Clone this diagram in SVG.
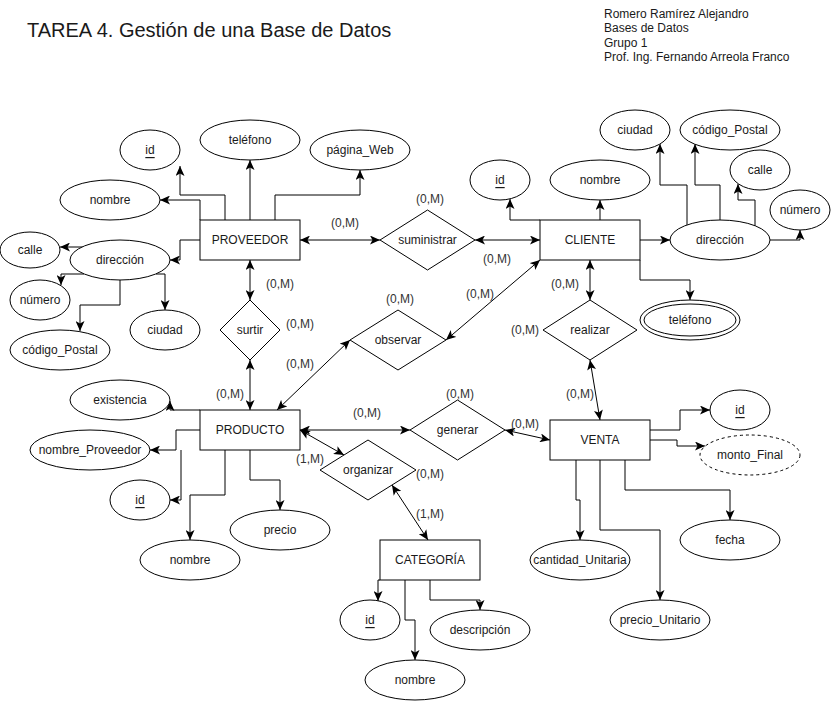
<svg xmlns="http://www.w3.org/2000/svg" width="831" height="701" viewBox="0 0 831 701">
<style>
text{font-family:"Liberation Sans",Arial,Helvetica,sans-serif;font-size:12px;fill:#1a1a1a}
.t{text-anchor:middle;dominant-baseline:central}
.lbl{text-anchor:middle;dominant-baseline:central;fill:#333}
.box,.att,.rel{fill:#fff;stroke:#000;stroke-width:1}
.dash{stroke-dasharray:3 3}
.u{text-decoration:underline}
#conn path{fill:none;stroke:#000;stroke-width:1}
.one{marker-end:url(#ar)}
.two{marker-start:url(#ar);marker-end:url(#ar)}
</style>
<defs>
<marker id="ar" viewBox="0 0 10 9" refX="10" refY="4.5" markerWidth="10" markerHeight="9" markerUnits="userSpaceOnUse" orient="auto-start-reverse">
<path d="M0,0 L10,4.5 L0,9 L2.5,4.5 z" fill="#000"/>
</marker>
</defs>
<rect width="831" height="701" fill="#fff"/>

<g id="header">
<text x="27" y="37" style="font-size:20px">TAREA 4. Gestión de una Base de Datos</text>
<text x="604" y="18">Romero Ramírez Alejandro</text>
<text x="604" y="32">Bases de Datos</text>
<text x="604" y="47">Grupo 1</text>
<text x="604" y="61">Prof. Ing. Fernando Arreola Franco</text>
</g>

<g id="conn">
<!-- PROVEEDOR attributes -->
<path class="one" d="M225,220 V195 H180 V166"/>
<path class="one" d="M200,220 V200 H160"/>
<path class="one" d="M250,220 V160"/>
<path class="one" d="M275,220 V195 H360 V170"/>
<path class="one" d="M200,240 H180 V260 H170"/>
<path class="one" d="M83,247 H60"/>
<path class="one" d="M84,274 H61 V285"/>
<path class="one" d="M120,280 V305 H80 V331"/>
<path class="one" d="M156,274 H165 V310"/>
<!-- CLIENTE attributes -->
<path class="one" d="M540,220 H510 V199"/>
<path class="one" d="M600,220 V200"/>
<path class="one" d="M640,240 H670"/>
<path class="one" d="M687,225 V185 H660 V144"/>
<path class="one" d="M720,220 V185 H695 V144"/>
<path class="one" d="M755,226 V200 H738 V184"/>
<path class="one" d="M770,240 H800 V230"/>
<path class="one" d="M640,260 V280 H690 V300"/>
<!-- VENTA attributes -->
<path class="one" d="M650,430 H680 V410 H710"/>
<path class="one" d="M650,440 H677 V446 H705"/>
<path class="one" d="M576,460 V500 H580 V540"/>
<path class="one" d="M600,460 V530 H660 V600"/>
<path class="one" d="M625,460 V490 H730 V520"/>
<!-- PRODUCTO attributes -->
<path class="one" d="M200,410 H170 V401"/>
<path class="one" d="M200,430 H176 V450 H150"/>
<path class="one" d="M181,450 V500 H170"/>
<path class="one" d="M225,450 V495 H190 V540"/>
<path class="one" d="M250,450 V480 H280 V510"/>
<!-- CATEGORIA attributes -->
<path class="one" d="M380,580 H378 V601"/>
<path class="one" d="M405,580 V620 H415 V660"/>
<path class="one" d="M430,580 V600 H480 V610"/>
<!-- relationships -->
<path class="two" d="M300,240 H380"/>
<path class="two" d="M475,240 H540"/>
<path class="two" d="M250,260 V300"/>
<path class="two" d="M250,360 V410"/>
<path class="two" d="M277,410 L350,340"/>
<path class="two" d="M446,340 L540,260"/>
<path class="two" d="M590,260 V300"/>
<path class="two" d="M590,360 L600,420"/>
<path class="two" d="M300,430 H410"/>
<path class="two" d="M505,430 L550,440"/>
<path class="two" d="M300,430 L344,455"/>
<path class="two" d="M392,485 L428,540"/>
</g>

<g id="labels">
<text class="lbl" x="345" y="223">(0,M)</text>
<text class="lbl" x="430" y="199">(0,M)</text>
<text class="lbl" x="497" y="259">(0,M)</text>
<text class="lbl" x="280" y="284">(0,M)</text>
<text class="lbl" x="300" y="324">(0,M)</text>
<text class="lbl" x="300" y="364">(0,M)</text>
<text class="lbl" x="230" y="394">(0,M)</text>
<text class="lbl" x="400" y="299">(0,M)</text>
<text class="lbl" x="480" y="294">(0,M)</text>
<text class="lbl" x="565" y="284">(0,M)</text>
<text class="lbl" x="525" y="330">(0,M)</text>
<text class="lbl" x="580" y="394">(0,M)</text>
<text class="lbl" x="460" y="394">(0,M)</text>
<text class="lbl" x="367" y="413">(0,M)</text>
<text class="lbl" x="525" y="424">(0,M)</text>
<text class="lbl" x="310" y="459">(1,M)</text>
<text class="lbl" x="430" y="474">(0,M)</text>
<text class="lbl" x="430" y="514">(1,M)</text>
</g>

<!-- Entities -->
<g id="proveedor"><rect class="box" x="200" y="220" width="100" height="40"/><text class="t" x="250" y="240">PROVEEDOR</text></g>
<g id="cliente"><rect class="box" x="540" y="220" width="100" height="40"/><text class="t" x="590" y="240">CLIENTE</text></g>
<g id="producto"><rect class="box" x="200" y="410" width="100" height="40"/><text class="t" x="250" y="430">PRODUCTO</text></g>
<g id="venta"><rect class="box" x="550" y="420" width="100" height="40"/><text class="t" x="600" y="440">VENTA</text></g>
<g id="categoria"><rect class="box" x="380" y="540" width="100" height="40"/><text class="t" x="430" y="560">CATEGORÍA</text></g>

<!-- Relationships -->
<g id="suministrar"><polygon class="rel" points="380,240 427.5,210 475,240 427.5,270"/><text class="t" x="427.5" y="240">suministrar</text></g>
<g id="surtir"><polygon class="rel" points="220,330 250,300 280,330 250,360"/><text class="t" x="250" y="330">surtir</text></g>
<g id="observar"><polygon class="rel" points="350,340 398,310 446,340 398,370"/><text class="t" x="398" y="340">observar</text></g>
<g id="realizar"><polygon class="rel" points="543,330 590,300 637,330 590,360"/><text class="t" x="590" y="330">realizar</text></g>
<g id="generar"><polygon class="rel" points="410,430 457.5,400 505,430 457.5,460"/><text class="t" x="457.5" y="430">generar</text></g>
<g id="organizar"><polygon class="rel" points="320,470 368,440 416,470 368,500"/><text class="t" x="368" y="470">organizar</text></g>

<!-- PROVEEDOR attributes -->
<g id="prov_id"><ellipse class="att" cx="150" cy="150" rx="30" ry="20"/><text class="t u" x="150" y="150">id</text></g>
<g id="prov_telefono"><ellipse class="att" cx="250" cy="140" rx="50" ry="20"/><text class="t" x="250" y="140">teléfono</text></g>
<g id="prov_pagina"><ellipse class="att" cx="360" cy="150" rx="50" ry="20"/><text class="t" x="360" y="150">página_Web</text></g>
<g id="prov_nombre"><ellipse class="att" cx="110" cy="200" rx="50" ry="20"/><text class="t" x="110" y="200">nombre</text></g>
<g id="prov_direccion"><ellipse class="att" cx="120" cy="260" rx="50" ry="20"/><text class="t" x="120" y="260">dirección</text></g>
<g id="prov_calle"><ellipse class="att" cx="30" cy="250" rx="30" ry="18"/><text class="t" x="30" y="250">calle</text></g>
<g id="prov_numero"><ellipse class="att" cx="40" cy="300" rx="30" ry="20"/><text class="t" x="40" y="300">número</text></g>
<g id="prov_ciudad"><ellipse class="att" cx="165" cy="330" rx="35" ry="20"/><text class="t" x="165" y="330">ciudad</text></g>
<g id="prov_cp"><ellipse class="att" cx="60" cy="350" rx="50" ry="20"/><text class="t" x="60" y="350">código_Postal</text></g>

<!-- CLIENTE attributes -->
<g id="cli_id"><ellipse class="att" cx="500" cy="180" rx="30" ry="20"/><text class="t u" x="500" y="180">id</text></g>
<g id="cli_nombre"><ellipse class="att" cx="600" cy="180" rx="50" ry="20"/><text class="t" x="600" y="180">nombre</text></g>
<g id="cli_direccion"><ellipse class="att" cx="720" cy="240" rx="50" ry="20"/><text class="t" x="720" y="240">dirección</text></g>
<g id="cli_ciudad"><ellipse class="att" cx="635" cy="130" rx="35" ry="20"/><text class="t" x="635" y="130">ciudad</text></g>
<g id="cli_cp"><ellipse class="att" cx="730" cy="130" rx="50" ry="20"/><text class="t" x="730" y="130">código_Postal</text></g>
<g id="cli_calle"><ellipse class="att" cx="760" cy="170" rx="30" ry="20"/><text class="t" x="760" y="170">calle</text></g>
<g id="cli_numero"><ellipse class="att" cx="800" cy="210" rx="30" ry="20"/><text class="t" x="800" y="210">número</text></g>
<g id="cli_telefono"><ellipse class="att" cx="690" cy="320" rx="50" ry="20"/><ellipse class="att" cx="690" cy="320" rx="46" ry="16"/><text class="t" x="690" y="320">teléfono</text></g>

<!-- PRODUCTO attributes -->
<g id="prod_existencia"><ellipse class="att" cx="120" cy="400" rx="50" ry="20"/><text class="t" x="120" y="400">existencia</text></g>
<g id="prod_nomprov"><ellipse class="att" cx="90" cy="450" rx="60" ry="20"/><text class="t" x="90" y="450">nombre_Proveedor</text></g>
<g id="prod_id"><ellipse class="att" cx="140" cy="500" rx="30" ry="20"/><text class="t u" x="140" y="500">id</text></g>
<g id="prod_nombre"><ellipse class="att" cx="190" cy="560" rx="50" ry="20"/><text class="t" x="190" y="560">nombre</text></g>
<g id="prod_precio"><ellipse class="att" cx="280" cy="530" rx="50" ry="20"/><text class="t" x="280" y="530">precio</text></g>

<!-- VENTA attributes -->
<g id="venta_id"><ellipse class="att" cx="740" cy="410" rx="30" ry="20"/><text class="t u" x="740" y="410">id</text></g>
<g id="venta_monto"><ellipse class="att dash" cx="750" cy="455" rx="50" ry="20"/><text class="t" x="750" y="455">monto_Final</text></g>
<g id="venta_fecha"><ellipse class="att" cx="730" cy="540" rx="50" ry="20"/><text class="t" x="730" y="540">fecha</text></g>
<g id="venta_cantidad"><ellipse class="att" cx="580" cy="560" rx="50" ry="20"/><text class="t" x="580" y="560">cantidad_Unitaria</text></g>
<g id="venta_precio"><ellipse class="att" cx="660" cy="620" rx="50" ry="20"/><text class="t" x="660" y="620">precio_Unitario</text></g>

<!-- CATEGORIA attributes -->
<g id="cat_id"><ellipse class="att" cx="370" cy="620" rx="30" ry="20"/><text class="t u" x="370" y="620">id</text></g>
<g id="cat_desc"><ellipse class="att" cx="480" cy="630" rx="50" ry="20"/><text class="t" x="480" y="630">descripción</text></g>
<g id="cat_nombre"><ellipse class="att" cx="415" cy="680" rx="50" ry="20"/><text class="t" x="415" y="680">nombre</text></g>
</svg>
